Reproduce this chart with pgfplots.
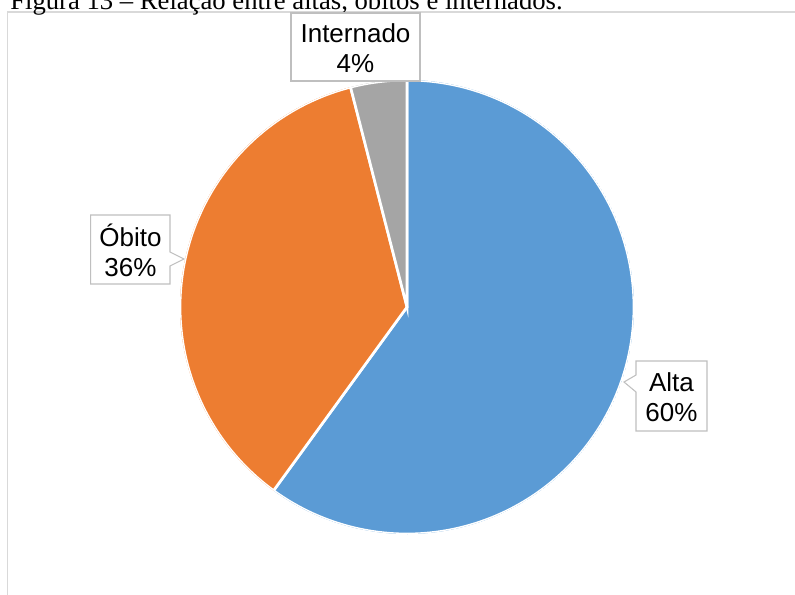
\documentclass[border=0pt]{standalone}
\usepackage{fontspec}
\setmainfont{Liberation Serif}
\newfontfamily\arial{Liberation Sans}
\usepackage{pgfplots}
\pgfplotsset{compat=1.18}
\usepgfplotslibrary{polar}

\definecolor{altablue}{HTML}{5B9BD5}
\definecolor{obitoorange}{HTML}{ED7D31}
\definecolor{interngray}{HTML}{A5A5A5}
\definecolor{framegray}{HTML}{D9D9D9}
\definecolor{boxgray}{HTML}{BFBFBF}

\begin{document}
\begin{tikzpicture}
\useasboundingbox (0,0) rectangle (596.25pt,-445.5pt);
\clip (0,0) rectangle (596.25pt,-445.5pt);

% frame and caption (1px = 0.75pt, y pointing down)
\begin{scope}[x=0.75pt,y=-0.75pt]
  \draw[framegray, line width=1.1pt] (7.5,600) -- (7.5,12) -- (800,12);
  \node[anchor=base west, inner sep=0pt, font=\fontsize{20}{24}\selectfont]
    at (10,9) {Figura 13 – Relação entre altas, óbitos e internados.};
\end{scope}

% pie: Alta 60%, Obito 36%, Internado 4% (3.6 degrees per percent, clockwise from top)
\begin{polaraxis}[
  at={(305.25pt,-230.25pt)}, anchor=center,
  width=340.5pt, height=340.5pt, scale only axis,
  xmin=0, xmax=360, ymin=0, ymax=1,
  hide axis,
]
\addplot[draw=white, line width=2pt, fill=altablue, domain={90-3.6*60}:90, samples=150]
  {1} -- (axis cs:0,0) -- cycle;
\addplot[draw=white, line width=2pt, fill=obitoorange, domain={90-3.6*96}:{90-3.6*60}, samples=100]
  {1} -- (axis cs:0,0) -- cycle;
\addplot[draw=white, line width=2pt, fill=interngray, domain={90-3.6*100}:{90-3.6*96}, samples=20]
  {1} -- (axis cs:0,0) -- cycle;
\end{polaraxis}

% data labels
\begin{scope}[x=0.75pt,y=-0.75pt, every node/.style={align=center, inner sep=0pt,
    font=\arial\fontsize{19.5}{22.5}\selectfont}]
  \draw[boxgray, fill=white, line width=0.8pt] (291,13) rectangle (420,81);
  \node at (355.5,48) {Internado\\4\%};
  \draw[boxgray, fill=white, line width=0.8pt]
    (90.7,215) -- (170,215) -- (170,252) -- (184,259) -- (170,266) -- (170,284) -- (90.7,284) -- cycle;
  \node at (130.5,250) {Óbito\\36\%};
  \draw[boxgray, fill=white, line width=0.8pt]
    (636,361) -- (707,361) -- (707,431) -- (636,431) -- (636,392) -- (624,382) -- (636,375) -- cycle;
  \node at (671.5,397) {Alta\\60\%};
\end{scope}
\end{tikzpicture}
\end{document}
